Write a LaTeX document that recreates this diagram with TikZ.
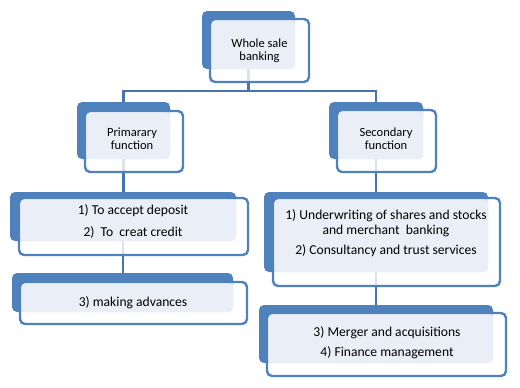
\documentclass[tikz,border=0pt]{standalone}
\usepackage{fontspec}
\setmainfont{Carlito}
\usepackage{tikz}
\usetikzlibrary{backgrounds}
\definecolor{SABlue}  {HTML}{4F81BD}
\definecolor{SABlueDk}{HTML}{4674AD}
\definecolor{SAFace}  {HTML}{EAEFF7}

\begin{document}
\begin{tikzpicture}[x=1pt,y=-1pt,
  back/.style={fill=SABlue,rounded corners=5pt,inner sep=0pt},
  frame/.style={draw=SABlue,line width=2.4pt,fill=white,fill opacity=0.8,
                rounded corners=5pt,inner sep=0pt},
  face/.style={fill=SAFace,rounded corners=4pt,inner sep=0pt},
  txt/.style={align=center,text=black,inner sep=0pt,
              font=\fontsize{12.5}{13}\selectfont},
  big/.style={align=center,text=black,inner sep=0pt,
              font=\fontsize{13.6}{15}\selectfont},
  link/.style={draw=SABlueDk,line width=2.6pt}
]
  \useasboundingbox (0,0) rectangle (520,388);

  % Wholesale banking
  \node[back, minimum width=93pt,  minimum height=58pt]   (top-b) at (248.5,40)     {};
  \node[frame,minimum width=99pt,  minimum height=63pt]   (top-f) at (259.5,50.5)   {};
  \node[face, minimum width=83.5pt,minimum height=48.5pt] (top-s) at (253.25,44.75) {};
  \node[txt] (top) at (259.5,51) {Whole sale\\banking};

  % Primary function
  \node[back, minimum width=93pt,  minimum height=57pt]   (pri-b) at (123.5,130.5)  {};
  \node[frame,minimum width=98pt,  minimum height=61pt]   (pri-f) at (134,141.5)    {};
  \node[face, minimum width=83.7pt,minimum height=46.7pt] (pri-s) at (128.15,135.65){};
  \node[txt] (pri) at (132,139) {Primarary\\function};

  % Secondary function
  \node[back, minimum width=94pt,  minimum height=57pt]   (sec-b) at (376,130.5)    {};
  \node[frame,minimum width=99pt,  minimum height=62pt]   (sec-f) at (386.5,141)    {};
  \node[face, minimum width=84.7pt,minimum height=47.7pt] (sec-s) at (380.65,135.15){};
  \node[txt] (sec) at (386,139) {Secondary\\function};

  % Primary: deposit / credit
  \node[back, minimum width=226pt,  minimum height=49pt]   (acc-b) at (123,216.5)    {};
  \node[frame,minimum width=229pt,  minimum height=57pt]   (acc-f) at (133.5,226.5)  {};
  \node[face, minimum width=215.7pt,minimum height=41.7pt] (acc-s) at (128.15,220.15){};
  \node[big] (acc) at (133,221) {1) To accept deposit\\[7pt]2)~ To~ creat credit};

  % Primary: advances
  \node[back, minimum width=221pt,  minimum height=39pt]   (adv-b) at (122.5,292.5)  {};
  \node[frame,minimum width=227pt,  minimum height=42pt]   (adv-f) at (133.5,303)    {};
  \node[face, minimum width=211.7pt,minimum height=28.7pt] (adv-s) at (127.15,297.65){};
  \node[big] (adv) at (133,303) {3) making advances};

  % Secondary: underwriting / consultancy
  \node[back, minimum width=224pt,  minimum height=80pt]   (uw-b) at (376,232)       {};
  \node[frame,minimum width=227pt,  minimum height=88pt]   (uw-f) at (386.5,242)     {};
  \node[face, minimum width=213.7pt,minimum height=72.7pt] (uw-s) at (381.15,235.65) {};
  \node[big] (uw) at (386,233.5)
    {1) Underwriting of shares and stocks\\and merchant~ banking\\[5pt]2) Consultancy and trust services};

  % Secondary: merger / finance
  \node[back, minimum width=234pt,  minimum height=58pt]   (mg-b) at (376,334)       {};
  \node[frame,minimum width=239pt,  minimum height=63pt]   (mg-f) at (386.5,344.5)   {};
  \node[face, minimum width=224.7pt,minimum height=48.7pt] (mg-s) at (380.65,338.65) {};
  \node[big] (mg) at (387,343) {3) Merger and acquisitions\\[5pt]4) Finance management};

  % Connectors
  \begin{pgfonlayer}{background}
    \draw[link] (pri-b.north) -- ++(0,-11) -| (top-b.south);
    \draw[link] (sec-b.north) -- ++(0,-11) -| (top-b.south);
    \draw[link] (pri-b.south) -- (pri-b.south |- acc-b.north);
    \draw[link] (acc-b.south) -- (acc-b.south |- adv-b.north);
    \draw[link] (sec-b.south) -- (sec-b.south |- uw-b.north);
    \draw[link] (uw-b.south)  -- (uw-b.south |- mg-b.north);
  \end{pgfonlayer}
\end{tikzpicture}
\end{document}
